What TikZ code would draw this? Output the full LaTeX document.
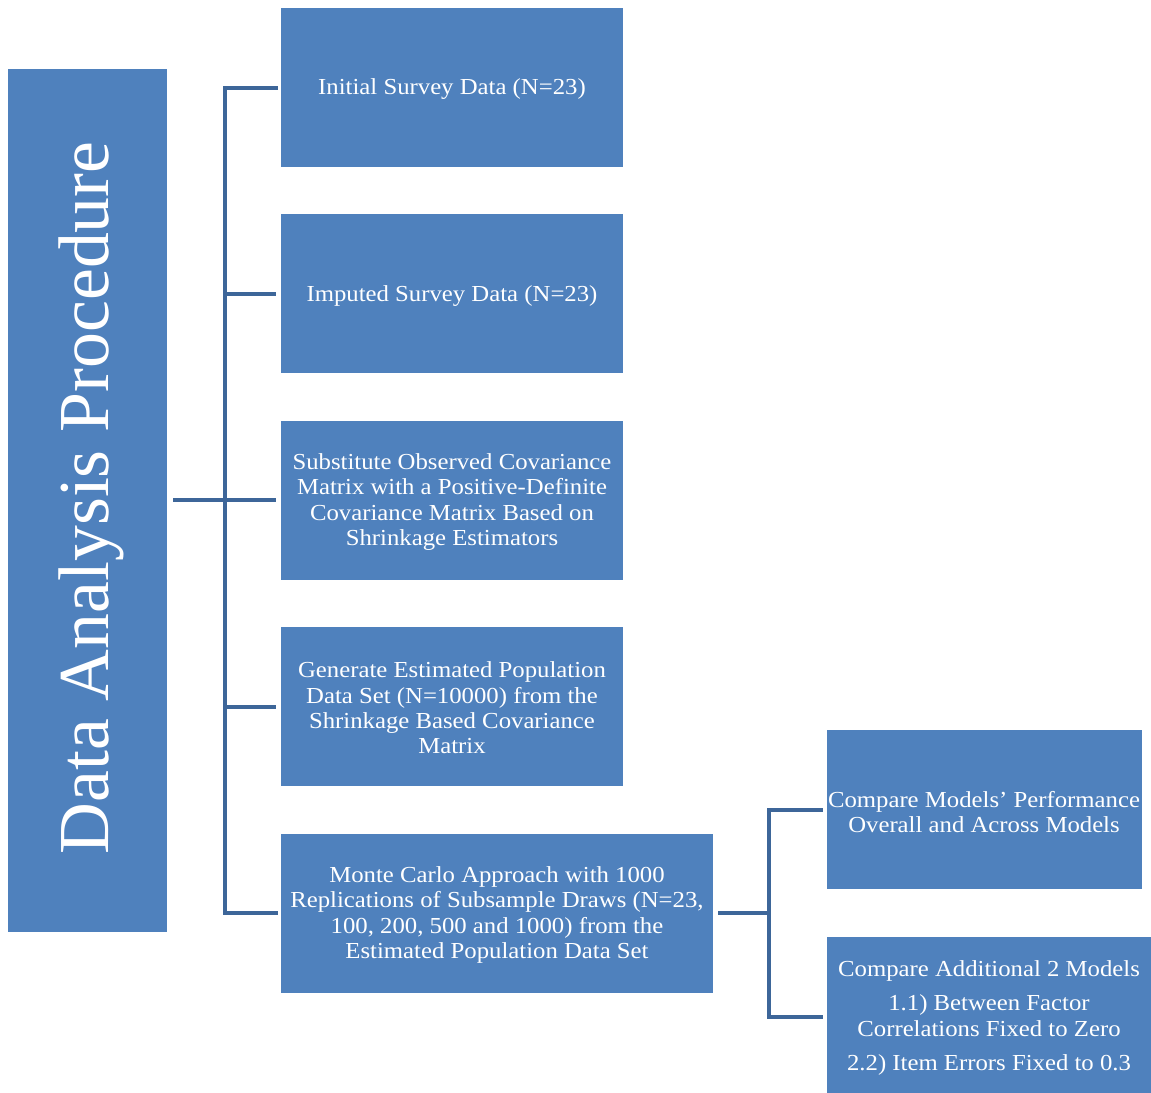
\documentclass[tikz,border=0pt]{standalone}
\usepackage{fontspec}
\setmainfont{Liberation Serif}
\newfontfamily\boxfont[FakeStretch=1.08]{Liberation Serif}
\definecolor{boxblue}{HTML}{4F81BD}
\definecolor{linkblue}{HTML}{3D6699}
\begin{document}
\begin{tikzpicture}[x=1bp,y=-1bp,
  stepbox/.style={fill=boxblue,draw=none,text=white,align=center,font=\boxfont\fontsize{23}{25.5}\selectfont,inner sep=0pt},
  link/.style={draw=linkblue,line width=4.5bp}]
\useasboundingbox (0,0) rectangle (1151,1093);

% title bar
\fill[boxblue] (8,69) rectangle (167,932);
\node[text=white,rotate=90,font=\fontsize{72}{80}\selectfont,inner sep=0pt] (title) at (91,498) {Data Analysis Procedure};
\coordinate (tr) at (173,500);

% step boxes
\fill[boxblue] (281,8) rectangle (623,167);
\node[stepbox] (s1) at (452,89) {Initial Survey Data (N=23)};
\fill[boxblue] (281,214) rectangle (623,373);
\node[stepbox] (s2) at (452,296) {Imputed Survey Data (N=23)};
\fill[boxblue] (281,421) rectangle (623,580);
\node[stepbox] (s3) at (452,502) {Substitute Observed Covariance\\Matrix with a Positive-Definite\\Covariance Matrix Based on\\Shrinkage Estimators};
\fill[boxblue] (281,627) rectangle (623,786);
\node[stepbox] (s4) at (452,708) {Generate Estimated Population\\Data Set (N=10000) from the\\Shrinkage Based Covariance\\Matrix};
\fill[boxblue] (281,834) rectangle (713,993);
\node[stepbox] (s5) at (497,915) {Monte Carlo Approach with 1000\\Replications of Subsample Draws (N=23,\\100, 200, 500 and 1000) from the\\Estimated Population Data Set};
\fill[boxblue] (827,730) rectangle (1142,889);
\node[stepbox] (s6) at (984,812) {Compare Models’ Performance\\Overall and Across Models};
\fill[boxblue] (827,937) rectangle (1151,1093);
\node[stepbox] (s7) at (989,1018) {Compare Additional 2 Models\\[9bp]1.1) Between Factor\\Correlations Fixed to Zero\\[9bp]2.2) Item Errors Fixed to 0.3};

% connectors
\coordinate (b1) at (225,500);
\draw[link] (tr) -- (b1);
\draw[link,line cap=rect] (276,88) -| (225,913) -- (276,913);
\draw[link] (225,294) -- (276,294);
\draw[link] (225,500) -- (276,500);
\draw[link] (225,707) -- (276,707);
\draw[link] (718,913) -- (769,913);
\draw[link,line cap=rect] (821,810) -| (769,1017) -- (821,1017);
\end{tikzpicture}
\end{document}
